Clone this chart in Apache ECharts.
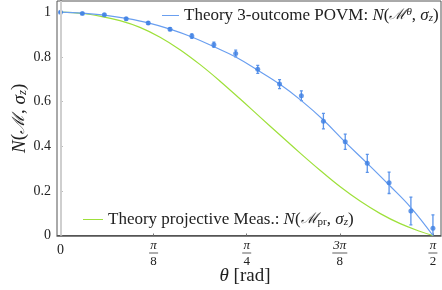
<!DOCTYPE html>
<html>
<head>
<meta charset="utf-8">
<script src="https://cdn.jsdelivr.net/npm/echarts@6/dist/echarts.min.js"></script>
<style>html,body{margin:0;padding:0;background:#fff;}#c{width:442px;height:290px;}</style>
</head>
<body>
<div id="c"></div>
<script>
// ---- data ----
const thetaData = [0, 0.092, 0.185, 0.277, 0.370, 0.462, 0.554, 0.647, 0.739, 0.832, 0.924, 1.016, 1.109, 1.201, 1.294, 1.386, 1.478, 1.571];
const measured  = [1.000, 0.994, 0.988, 0.970, 0.952, 0.924, 0.893, 0.854, 0.815, 0.744, 0.678, 0.626, 0.512, 0.420, 0.323, 0.236, 0.110, 0.032];
const errors    = [0.003, 0.004, 0.004, 0.005, 0.006, 0.007, 0.010, 0.012, 0.015, 0.018, 0.020, 0.022, 0.035, 0.034, 0.040, 0.048, 0.062, 0.060];
const povmTheory = [1.000, 0.996, 0.987, 0.972, 0.952, 0.924, 0.889, 0.845, 0.799, 0.740, 0.678, 0.604, 0.517, 0.418, 0.323, 0.226, 0.125, 0.000];
const projTheta  = [0, 0.095, 0.167, 0.251, 0.335, 0.420, 0.504, 0.589, 0.673, 0.758, 0.842, 0.927, 1.011, 1.096, 1.180, 1.265, 1.349, 1.433, 1.518, 1.571];
const projValues = [1.000, 0.994, 0.982, 0.962, 0.932, 0.888, 0.832, 0.765, 0.691, 0.611, 0.530, 0.449, 0.369, 0.291, 0.218, 0.153, 0.098, 0.053, 0.018, 0.000];
const xTickValues = [0, 0.3927, 0.7854, 1.1781, 1.5708];
const xTickNum = ['', 'π', 'π', '3π', 'π'];
const xTickDen = ['0', '8', '4', '8', '2'];
const yTickValues = [0, 0.2, 0.4, 0.6, 0.8, 1];

const serif = 'Liberation Serif';
const mathRich = {
  it: {fontFamily: serif, fontStyle: 'italic', fontSize: 17, color: '#222'},
  m: {fontFamily: 'DejaVu Serif', fontStyle: 'italic', fontSize: 15, color: '#222'},
  sup: {fontFamily: serif, fontStyle: 'italic', fontSize: 11, color: '#222', verticalAlign: 'top', lineHeight: 12},
  sub: {fontFamily: serif, fontStyle: 'italic', fontSize: 11, color: '#222', verticalAlign: 'bottom', lineHeight: 9},
  subr: {fontFamily: serif, fontSize: 11, color: '#222', verticalAlign: 'bottom', lineHeight: 9}
};

const chart = echarts.init(document.getElementById('c'), null, {renderer: 'canvas'});
const blueLine = '#6a9ff0';
const blueDot = '#3d7fe3';
const green = '#9ee03a';

chart.setOption({
  animation: false,
  grid: {left: 57, right: 1, top: 1, bottom: 54.5, show: true, borderColor: '#555', borderWidth: 1, outerBoundsMode: 'none', containLabel: false},
  xAxis: {
    type: 'value', min: -0.0148, max: 1.605,
    splitLine: {show: false},
    axisLine: {show: true, onZero: false, lineStyle: {color: '#555', width: 1.5}},
    axisTick: {show: true, inside: true, length: 2, customValues: xTickValues, lineStyle: {color: '#777'}},
    axisLabel: {
      customValues: xTickValues, margin: 4,
      formatter: function (v) {
        const i = xTickValues.findIndex(t => Math.abs(t - v) < 1e-3);
        if (i === 0) return '{z|0}';
        return '{n|' + xTickNum[i] + '}\n{bar' + (xTickNum[i].length > 1 ? '2' : '') + '|}\n{d|' + xTickDen[i] + '}';
      },
      rich: {
        z: {fontFamily: serif, fontSize: 14, color: '#222', lineHeight: 22},
        n: {fontFamily: serif, fontStyle: 'italic', fontSize: 13, color: '#222', lineHeight: 12, align: 'center'},
        bar: {width: 9, height: 0.8, lineHeight: 3, backgroundColor: '#333', align: 'center'},
        bar2: {width: 15, height: 0.8, lineHeight: 3, backgroundColor: '#333', align: 'center'},
        d: {fontFamily: serif, fontSize: 13, color: '#222', lineHeight: 14, align: 'center'}
      }
    },
    name: '{it|θ} [rad]', nameLocation: 'middle', nameGap: 31, nameMoveOverlap: false,
    nameTextStyle: {fontFamily: serif, fontSize: 19, color: '#222', padding: [0, 8, 0, 0], rich: {it: {fontFamily: serif, fontStyle: 'italic', fontSize: 19, color: '#222'}}}
  },
  yAxis: {
    type: 'value', min: 0, max: 1.05,
    splitLine: {show: false},
    axisLine: {show: true, lineStyle: {color: '#555', width: 1.5}},
    axisTick: {show: true, inside: true, length: 2, customValues: yTickValues, lineStyle: {color: '#777'}},
    axisLabel: {
      customValues: yTickValues, margin: 6,
      fontFamily: serif, fontSize: 14, color: '#222',
      formatter: v => (v === 0 ? '0' : v === 1 ? '1' : v.toFixed(1))
    },
    name: '{it|N}({m|ℳ}, {it|σ}{sub|z})', nameLocation: 'middle', nameGap: 28, nameRotate: 90, nameMoveOverlap: false,
    nameTextStyle: {fontFamily: serif, fontSize: 19, color: '#222', rich: {
      it: {fontFamily: serif, fontStyle: 'italic', fontSize: 19, color: '#222'},
      m: {fontFamily: 'DejaVu Serif', fontStyle: 'italic', fontSize: 17, color: '#222'},
      sub: {fontFamily: serif, fontStyle: 'italic', fontSize: 13, color: '#222', verticalAlign: 'bottom', lineHeight: 12}
    }}
  },
  legend: [
    {
      data: ['povm'], left: 162, top: 7, padding: 0, itemWidth: 17, itemHeight: 1, icon: 'rect',
      textStyle: {fontFamily: serif, fontSize: 17, color: '#222', rich: mathRich},
      formatter: () => 'Theory 3-outcome POVM: {it|N}({m|ℳ}{sup|θ}, {it|σ}{sub|z})'
    },
    {
      data: ['proj'], left: 83, top: 211, padding: 0, itemWidth: 20, itemHeight: 1, icon: 'rect',
      textStyle: {fontFamily: serif, fontSize: 17, color: '#222', rich: mathRich},
      formatter: () => 'Theory projective Meas.: {it|N}({m|ℳ}{subr|pr}, {it|σ}{sub|z})'
    }
  ],
  series: [
    {
      name: 'zero', type: 'line', data: [], silent: true,
      markLine: {symbol: 'none', silent: true, label: {show: false}, lineStyle: {color: '#cfcfcf', width: 2, type: 'solid'}, data: [{xAxis: 0}]}
    },
    {
      name: 'proj', type: 'line', smooth: 0.4, symbol: 'none',
      lineStyle: {color: green, width: 1.2}, itemStyle: {color: green},
      data: projTheta.map((t, i) => [t, projValues[i]])
    },
    {
      name: 'povm', type: 'line', smooth: 0.4, symbol: 'none',
      lineStyle: {color: blueLine, width: 1.2}, itemStyle: {color: blueLine},
      data: thetaData.map((t, i) => [t, povmTheory[i]])
    },
    {
      name: 'err', type: 'custom', clip: true,
      data: thetaData.map((t, i) => [t, measured[i] - errors[i], measured[i] + errors[i]]),
      renderItem: function (params, api) {
        const x = api.value(0);
        const a = api.coord([x, api.value(1)]);
        const b = api.coord([x, api.value(2)]);
        const st = {stroke: '#5a93ea', lineWidth: 1.3};
        return {type: 'group', children: [
          {type: 'line', shape: {x1: a[0], y1: a[1], x2: b[0], y2: b[1]}, style: st},
          {type: 'line', shape: {x1: a[0] - 1.5, y1: a[1], x2: a[0] + 1.5, y2: a[1]}, style: st},
          {type: 'line', shape: {x1: b[0] - 1.5, y1: b[1], x2: b[0] + 1.5, y2: b[1]}, style: st}
        ]};
      },
      z: 3
    },
    {
      name: 'data', type: 'scatter', symbol: 'circle', symbolSize: 5,
      itemStyle: {color: blueDot}, z: 4,
      data: thetaData.map((t, i) => [t, measured[i]])
    }
  ]
});
</script>
</body>
</html>
